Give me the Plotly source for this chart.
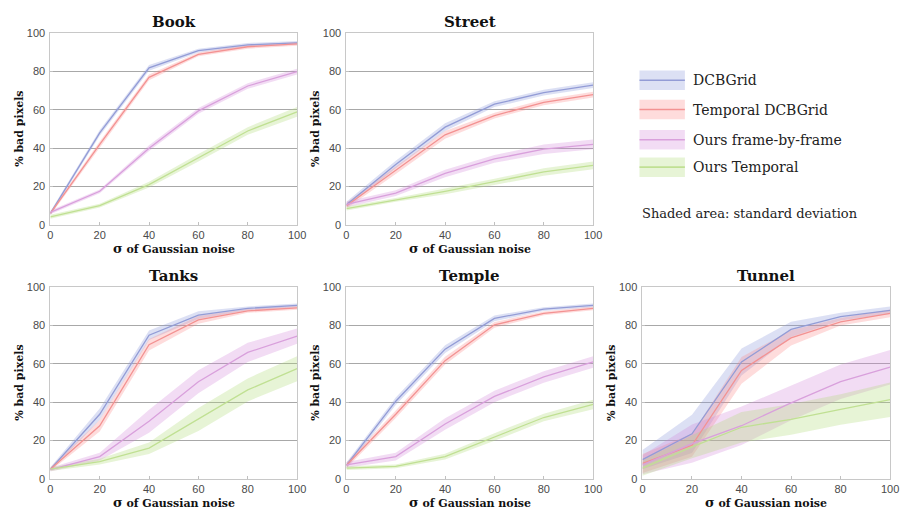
import plotly.graph_objects as go

# ---------------- data ----------------
sigma = [0, 20, 40, 60, 80, 100]
series_names = ["DCBGrid", "Temporal DCBGrid", "Ours frame-by-frame", "Ours Temporal"]
panel_titles = ["Book", "Street", "Tanks", "Temple", "Tunnel"]
x_ticks = [0, 20, 40, 60, 80, 100]
y_ticks = [0, 20, 40, 60, 80, 100]

# rows: DCBGrid, Temporal DCBGrid, Ours frame-by-frame, Ours Temporal
book_mean = [[6, 48, 82, 91, 94, 95],
             [6, 42, 77, 89, 93, 94.5],
             [6.5, 17.5, 40, 59.5, 72.5, 80],
             [4.2, 10, 21, 35, 49, 59]]
book_sd = [[1, 1.5, 1.5, 1, 1, 1],
           [1, 1.5, 1.5, 1, 1, 1],
           [1, 1, 1.5, 1.5, 1.5, 1.5],
           [1, 1, 1.5, 2, 2, 2.5]]

street_mean = [[10.5, 31.5, 51, 63, 69, 73],
               [10, 28.5, 47, 57, 64, 68],
               [10.7, 16.6, 26.8, 34.4, 39.5, 42],
               [8.5, 13, 17.5, 22.5, 27.6, 31]]
street_sd = [[1.5, 2, 2, 1.5, 1.5, 1.5],
             [1.5, 2, 2, 1.5, 1.5, 1.5],
             [1.5, 1.5, 2, 2, 2.5, 2.5],
             [1, 1, 1.5, 1.5, 2, 2]]

tanks_mean = [[5, 33.7, 75, 85.5, 89, 90.6],
              [5, 27.7, 70, 83, 87.7, 89.3],
              [4.8, 11.6, 30, 50.7, 66, 74.5],
              [5, 9, 16, 31, 46.4, 57.5]]
tanks_sd = [[1, 3, 2.5, 2, 1, 1],
            [1, 3, 3, 2, 1, 1],
            [1, 2, 6, 6, 5, 4],
            [1, 1.5, 3, 6, 6, 6.5]]

temple_mean = [[7, 40.5, 67.7, 83.8, 88.6, 90.6],
               [7, 33.7, 61.7, 80.4, 86.4, 89],
               [7.3, 11.6, 28.6, 43, 53.2, 61],
               [5.6, 6.5, 11.6, 21.8, 32, 38.8]]
temple_sd = [[1.5, 2, 2, 1.5, 1, 1],
             [1.5, 2, 2, 1.5, 1, 1],
             [1.5, 2, 3, 3, 3, 3],
             [1, 1, 1.5, 2, 2, 2.5]]

tunnel_mean = [[10, 23.5, 61, 78, 84.7, 88],
               [8, 17.5, 56.6, 73.6, 82, 86.4],
               [7.3, 18.4, 27.7, 39.6, 50.7, 58.3],
               [5.6, 16.7, 26.9, 31, 36.2, 41.3]]
tunnel_sd = [[5, 10, 7, 4, 2, 2],
             [5, 6, 7, 4, 2, 2],
             [5, 10, 10, 9, 9, 9],
             [4, 6, 8, 8, 8, 9]]

panel_means = [book_mean, street_mean, tanks_mean, temple_mean, tunnel_mean]
panel_sds = [book_sd, street_sd, tanks_sd, temple_sd, tunnel_sd]

# ---------------- style ----------------
W, H = 910, 517
line_colors = ["#939cd6", "#f39292", "#d9a0dc", "#c0e093"]
fill_colors = ["rgba(140,152,220,0.30)", "rgba(250,130,130,0.28)",
               "rgba(210,130,215,0.28)", "rgba(175,220,120,0.30)"]

# pixel boxes (left, right, top, bottom)
boxes = [(48, 298, 28, 224), (348, 598, 28, 224),
         (48, 298, 288, 484), (348, 598, 288, 484), (648, 899, 288, 484)]

fig = go.Figure()
layout_axes = {}
annotations = []
shapes = []

serif = "DejaVu Serif"
sans = "Liberation Sans"

for i, (title, means, sds, box) in enumerate(zip(panel_titles, panel_means, panel_sds, boxes)):
    n = i + 1
    xa = "x" if n == 1 else f"x{n}"
    ya = "y" if n == 1 else f"y{n}"
    l, r, t, b = box
    for k in range(4):
        m = means[k]
        s = sds[k]
        upper = [a + d for a, d in zip(m, s)]
        lower = [a - d for a, d in zip(m, s)]
        fig.add_trace(go.Scatter(x=sigma, y=upper, xaxis=xa, yaxis=ya, mode="lines",
                                 line=dict(width=0, color=line_colors[k]), showlegend=False,
                                 hoverinfo="skip"))
        fig.add_trace(go.Scatter(x=sigma, y=lower, xaxis=xa, yaxis=ya, mode="lines",
                                 line=dict(width=0, color=line_colors[k]), fill="tonexty",
                                 fillcolor=fill_colors[k], showlegend=False, hoverinfo="skip"))
    for k in range(4):
        fig.add_trace(go.Scatter(x=sigma, y=means[k], xaxis=xa, yaxis=ya, mode="lines",
                                 line=dict(width=1.3, color=line_colors[k]),
                                 name=series_names[k], showlegend=False))
    axkw = dict(range=[0, 100], showline=True, mirror=True, linecolor="#c8c8c8", linewidth=1,
                ticks="inside", ticklen=3, tickcolor="#c0c0c0", zeroline=False,
                ticklabeloverflow="allow",
                tickfont=dict(family=sans, size=11, color="#4a4a4a"))
    layout_axes["xaxis" if n == 1 else f"xaxis{n}"] = dict(
        domain=[l / W, r / W], anchor=ya, tickvals=x_ticks, showgrid=False, **axkw)
    layout_axes["yaxis" if n == 1 else f"yaxis{n}"] = dict(
        domain=[1 - b / H, 1 - t / H], anchor=xa, tickvals=y_ticks, showgrid=True,
        gridcolor="#a8a8a8", gridwidth=1, ticklabelstandoff=2, **axkw)
    cx = (l + r) / 2
    annotations.append(dict(text=f"<b>{title}</b>", x=cx / W, y=1 - (t - 12) / H,
                            xref="paper", yref="paper", showarrow=False,
                            font=dict(family=serif, size=15, color="#111111"),
                            xanchor="center", yanchor="middle"))
    annotations.append(dict(text="<b><span style='font-size:13px'>σ</span> of Gaussian noise</b>",
                            x=cx / W, y=1 - (b + 24) / H,
                            xref="paper", yref="paper", showarrow=False,
                            font=dict(family=serif, size=11, color="#111111"),
                            xanchor="center", yanchor="middle"))
    annotations.append(dict(text="<b>% bad pixels</b>", x=(l - 32) / W, y=1 - ((t + b) / 2) / H,
                            xref="paper", yref="paper", showarrow=False, textangle=-90,
                            font=dict(family=serif, size=11, color="#111111"),
                            xanchor="center", yanchor="middle"))

# ---------------- manual legend ----------------
legend_centers = [76, 106, 137, 165]
for k, cy in enumerate(legend_centers):
    shapes.append(dict(type="rect", xref="paper", yref="paper",
                       x0=645 / W, x1=691 / W, y0=1 - (cy + 10) / H, y1=1 - (cy - 10) / H,
                       fillcolor=fill_colors[k], line=dict(width=0)))
    shapes.append(dict(type="line", xref="paper", yref="paper",
                       x0=645 / W, x1=691 / W, y0=1 - cy / H, y1=1 - cy / H,
                       line=dict(color=line_colors[k], width=1.6)))
    annotations.append(dict(text=series_names[k], x=697 / W, y=1 - cy / H,
                            xref="paper", yref="paper", showarrow=False,
                            font=dict(family=serif, size=14, color="#222222"),
                            xanchor="left", yanchor="middle"))
annotations.append(dict(text="Shaded area: standard deviation", x=646 / W, y=1 - 212 / H,
                        xref="paper", yref="paper", showarrow=False,
                        font=dict(family=serif, size=13, color="#222222"),
                        xanchor="left", yanchor="middle"))

fig.update_layout(width=W, height=H, margin=dict(l=0, r=0, t=0, b=0),
                  paper_bgcolor="white", plot_bgcolor="white", showlegend=False,
                  annotations=annotations, shapes=shapes, **layout_axes)

fig.write_html("out.html", config={"displayModeBar": False},
               post_script="document.body.style.margin='0';"
                           "document.body.style.overflow='hidden';"
                           "document.documentElement.style.overflow='hidden';")
